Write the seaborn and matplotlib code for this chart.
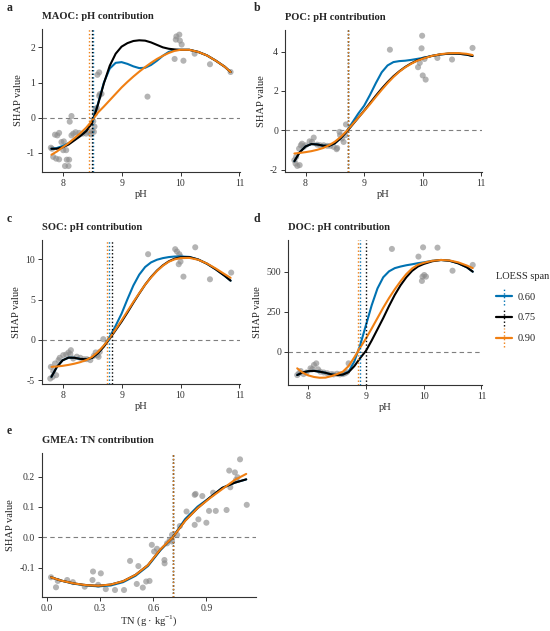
import numpy as np
import pandas as pd
import matplotlib
matplotlib.use('Agg')
import matplotlib.pyplot as plt
import seaborn as sns
from matplotlib.lines import Line2D
from matplotlib.legend_handler import HandlerBase


span_labels = ['0.60', '0.75', '0.90']
span_colors = ['#0072B2', '#000000', '#F07F12']

ph_grid = [7.81, 7.9, 8.0, 8.1, 8.2, 8.3, 8.4, 8.5, 8.6, 8.7, 8.8, 8.9, 9.0,
           9.1, 9.2, 9.3, 9.4, 9.5, 9.6, 9.7, 9.8, 9.9, 10.0, 10.15, 10.3,
           10.45, 10.6, 10.75, 10.85]
tn_grid = [0.023, 0.08, 0.15, 0.22, 0.29, 0.36, 0.43, 0.50, 0.57, 0.64, 0.71,
           0.78, 0.85, 0.92, 0.99, 1.06, 1.125]

# ---- MAOC ----
maoc_ph = [7.80, 7.82, 7.84, 7.89, 7.94, 7.87, 7.91, 7.94, 7.98, 8.02, 8.01,
           8.06, 8.07, 8.11, 8.04, 8.10, 8.12, 8.15, 8.15, 8.18, 8.22, 8.28,
           8.34, 8.40, 8.43, 8.48, 8.50, 8.53, 8.54, 8.52, 8.55, 8.56, 8.58,
           8.62, 8.63, 8.66, 8.59, 8.62, 9.44, 9.90, 10.05, 9.93, 9.98, 9.92,
           9.99, 10.02, 10.24, 10.50, 10.85]
maoc_shap = [-0.85, -0.88, -1.11, -1.16, -1.18, -0.48, -0.50, -0.43, -0.69,
             -0.67, -0.92, -0.92, -1.19, -1.19, -1.37, -1.37, -0.11, 0.05,
             -0.50, -0.45, -0.41, -0.43, -0.45, -0.45, -0.40, -0.47, -0.38,
             -0.40, -0.25, -0.10, 0.12, 0.25, 0.28, 0.62, 0.67, 0.68, 1.22,
             1.29, 0.60, 1.67, 1.62, 2.31, 2.36, 2.22, 2.19, 2.08, 1.82, 1.52,
             1.30]
maoc_fit_060 = [-0.88, -0.86, -0.80, -0.72, -0.62, -0.50, -0.36, -0.12, 0.40,
                1.00, 1.40, 1.56, 1.58, 1.53, 1.46, 1.41, 1.42, 1.50, 1.62,
                1.76, 1.87, 1.92, 1.93, 1.93, 1.87, 1.77, 1.62, 1.45, 1.30]
maoc_fit_075 = [-0.88, -0.88, -0.84, -0.76, -0.64, -0.52, -0.38, -0.15, 0.38,
                0.98, 1.48, 1.82, 2.02, 2.12, 2.18, 2.20, 2.19, 2.14, 2.07,
                2.00, 1.96, 1.94, 1.93, 1.93, 1.87, 1.77, 1.62, 1.45, 1.30]
maoc_fit_090 = [-1.05, -0.96, -0.84, -0.72, -0.58, -0.44, -0.28, -0.08, 0.15,
                0.32, 0.50, 0.68, 0.86, 1.02, 1.17, 1.31, 1.44, 1.56, 1.67,
                1.76, 1.84, 1.90, 1.93, 1.93, 1.87, 1.77, 1.62, 1.45, 1.30]
maoc_cut = [8.515, 8.50, 8.45]

# ---- POC ----
poc_ph = [7.81, 7.83, 7.86, 7.90, 7.84, 7.89, 7.92, 7.94, 7.97, 8.00, 8.07,
          8.14, 8.11, 8.20, 8.25, 8.31, 8.37, 8.42, 8.48, 8.54, 8.53, 8.58,
          8.59, 8.62, 8.65, 8.68, 8.69, 9.44, 9.99, 9.98, 9.92, 9.95, 10.00,
          10.05, 10.03, 10.25, 10.50, 10.85]
poc_shap = [-1.52, -1.69, -1.81, -1.77, -1.35, -0.93, -0.76, -0.68, -0.84,
            -0.76, -0.56, -0.37, -0.59, -0.73, -0.76, -0.76, -0.79, -0.79,
            -0.84, -0.90, -0.96, -0.08, -0.25, -0.42, -0.59, -0.25, 0.30,
            4.10, 4.81, 4.17, 3.21, 3.43, 2.79, 2.58, 3.63, 3.68, 3.60, 4.19]
poc_fit_060 = [-1.57, -1.12, -0.82, -0.70, -0.72, -0.78, -0.79, -0.66, -0.40,
               -0.05, 0.40, 0.85, 1.25, 1.80, 2.40, 2.95, 3.30, 3.47, 3.52,
               3.54, 3.58, 3.63, 3.68, 3.78, 3.86, 3.90, 3.90, 3.85, 3.78]
poc_fit_075 = [-1.57, -1.12, -0.82, -0.70, -0.72, -0.78, -0.79, -0.66, -0.40,
               -0.08, 0.28, 0.64, 1.00, 1.38, 1.76, 2.12, 2.45, 2.75, 3.00,
               3.22, 3.40, 3.55, 3.66, 3.78, 3.86, 3.90, 3.90, 3.85, 3.78]
poc_fit_090 = [-1.18, -1.15, -1.11, -1.06, -0.99, -0.90, -0.76, -0.58, -0.34,
               -0.04, 0.30, 0.64, 0.98, 1.33, 1.70, 2.06, 2.40, 2.71, 2.98,
               3.20, 3.38, 3.53, 3.64, 3.78, 3.87, 3.92, 3.93, 3.89, 3.83]
poc_cut = [8.72, 8.72, 8.73]

# ---- SOC ----
soc_ph = [7.79, 7.83, 7.89, 7.80, 7.84, 7.87, 7.93, 7.95, 8.01, 8.06, 8.10,
          8.14, 8.13, 8.18, 8.24, 8.30, 8.36, 8.41, 8.47, 8.53, 8.56, 8.59,
          8.61, 8.63, 8.69, 9.45, 9.91, 9.94, 9.98, 10.00, 9.97, 10.00, 10.05,
          10.25, 10.50, 10.86]
soc_shap = [-4.82, -4.61, -4.40, -3.37, -3.90, -2.95, -2.53, -2.24, -1.91,
            -1.83, -1.58, -1.29, -1.79, -2.33, -2.10, -2.24, -2.41, -2.41,
            -2.53, -1.99, -1.58, -1.91, -2.12, -1.50, 0.08, 10.64, 11.26,
            10.97, 10.64, 10.34, 9.39, 9.72, 7.85, 11.50, 7.52, 8.35]
soc_fit_060 = [-4.60, -3.40, -2.55, -2.22, -2.24, -2.38, -2.42, -2.25, -1.65,
               -0.75, 0.40, 1.75, 3.25, 5.05, 6.75, 8.10, 9.05, 9.62, 9.95,
               10.15, 10.28, 10.35, 10.36, 10.30, 9.98, 9.45, 8.75, 7.95, 7.35]
soc_fit_075 = [-4.60, -3.40, -2.55, -2.22, -2.24, -2.38, -2.42, -2.25, -1.65,
               -0.85, 0.15, 1.20, 2.25, 3.40, 4.60, 5.75, 6.85, 7.80, 8.60,
               9.25, 9.75, 10.08, 10.25, 10.28, 9.98, 9.45, 8.75, 7.95, 7.35]
soc_fit_090 = [-3.37, -3.32, -3.24, -3.12, -2.97, -2.78, -2.52, -2.12, -1.50,
               -0.70, 0.25, 1.30, 2.40, 3.55, 4.70, 5.80, 6.85, 7.75, 8.55,
               9.20, 9.70, 10.00, 10.15, 10.18, 9.95, 9.48, 8.85, 8.15, 7.70]
soc_cut = [8.79, 8.83, 8.76]

# ---- DOC ----
doc_ph = [7.81, 7.84, 7.87, 7.92, 7.97, 8.04, 8.07, 8.10, 8.14, 8.17, 8.21,
          8.27, 8.33, 8.40, 8.44, 8.50, 8.55, 8.60, 8.64, 8.67, 8.70, 9.45,
          9.91, 9.99, 10.24, 9.98, 10.01, 10.04, 9.97, 10.50, 10.85]
doc_shap = [-146, -135, -121, -140, -130, -104, -110, -83, -73, -110, -125,
            -130, -135, -140, -142, -138, -142, -140, -135, -128, -73, 642,
            594, 652, 650, 469, 479, 469, 442, 506, 542]
doc_fit_060 = [-146, -130, -122, -120, -125, -132, -142, -146, -143, -125,
               -60, 40, 165, 290, 395, 465, 502, 522, 532, 540, 546, 553, 558,
               568, 573, 568, 552, 527, 500]
doc_fit_075 = [-146, -130, -122, -120, -125, -132, -142, -146, -143, -128,
               -90, -40, 5, 70, 140, 210, 285, 355, 415, 465, 505, 532, 548,
               565, 573, 568, 552, 527, 500]
doc_fit_090 = [-104, -130, -148, -158, -163, -162, -153, -140, -125, -90,
               -35, 25, 82, 145, 210, 275, 335, 390, 440, 485, 520, 543, 555,
               568, 573, 570, 558, 538, 522]
doc_cut = [8.89, 9.00, 8.87]

# ---- GMEA ----
gmea_tn = [0.023, 0.051, 0.061, 0.114, 0.146, 0.213, 0.260, 0.257, 0.304,
           0.289, 0.332, 0.384, 0.435, 0.469, 0.507, 0.516, 0.541, 0.560,
           0.579, 0.592, 0.605, 0.621, 0.663, 0.664, 0.678, 0.693, 0.706,
           0.706, 0.735, 0.750, 0.788, 0.834, 0.834, 0.839, 0.855, 0.877,
           0.900, 0.915, 0.938, 0.953, 1.014, 1.029, 1.061, 1.035, 1.067,
           1.090, 1.128, 1.076]
gmea_shap = [-0.132, -0.165, -0.144, -0.141, -0.148, -0.163, -0.113, -0.141,
             -0.119, -0.157, -0.171, -0.174, -0.174, -0.078, -0.154, -0.095,
             -0.166, -0.146, -0.144, -0.025, -0.047, -0.038, -0.075, -0.086,
             -0.020, -0.009, -0.014, 0.008, 0.008, 0.037, 0.085, 0.041, 0.140,
             0.143, 0.059, 0.136, 0.048, 0.087, 0.147, 0.087, 0.090, 0.220,
             0.214, 0.165, 0.189, 0.257, 0.107, 0.198]
gmea_fit_060 = [-0.132, -0.143, -0.153, -0.159, -0.162, -0.159, -0.148, -0.127,
                -0.095, -0.043, 0.000, 0.060, 0.101, 0.131, 0.163, 0.180, 0.191]
gmea_fit_075 = [-0.132, -0.143, -0.152, -0.158, -0.160, -0.156, -0.145, -0.124,
                -0.092, -0.041, 0.000, 0.055, 0.096, 0.131, 0.163, 0.180, 0.191]
gmea_fit_090 = [-0.132, -0.143, -0.152, -0.158, -0.160, -0.156, -0.145, -0.124,
                -0.092, -0.040, 0.000, 0.054, 0.096, 0.129, 0.159, 0.189, 0.209]
gmea_cut = [0.710, 0.714, 0.712]


class SpanKey(HandlerBase):
    # ggplot style key: solid fit line crossed by a dotted threshold line
    def create_artists(self, legend, orig_handle, xdescent, ydescent,
                       width, height, fontsize, trans):
        c = orig_handle.get_color()
        v = Line2D([width / 2, width / 2], [-0.75 * height, 1.75 * height],
                   color=c, lw=1.0, ls=(0, (1, 1.6)), transform=trans)
        h = Line2D([0, width], [height / 2, height / 2], color=c, lw=1.6,
                   transform=trans)
        return [v, h]


def draw_panel(ax, px, py, grid, fits, cuts, title, xlabel, xlim, ylim,
               xticks, yticks):
    sns.scatterplot(x=px, y=py, ax=ax, color='#8c8c8c', alpha=0.65, s=19,
                    edgecolor='none', zorder=2)
    fit_df = pd.DataFrame({
        'x': np.tile(grid, 3),
        'y': np.concatenate(fits),
        'span': np.repeat(span_labels, len(grid)),
    })
    sns.lineplot(data=fit_df, x='x', y='y', hue='span', hue_order=span_labels,
                 palette=span_colors, lw=1.5, ax=ax, legend=False, zorder=3)
    ax.axhline(0, color='#7f7f7f', lw=0.8, ls=(0, (4, 3)), zorder=1)
    for cut, col in zip(cuts, span_colors):
        ax.axvline(cut, color=col, lw=1.0, ls=(0, (1, 1.6)), zorder=4)
    ax.set_xlim(*xlim)
    ax.set_ylim(*ylim)
    ax.set_xticks(xticks)
    ax.set_yticks(yticks)
    ax.set_title(title, loc='left', fontsize=7.6, fontweight='bold', pad=7)
    ax.set_xlabel(xlabel, fontsize=7.6, labelpad=1.5)
    ax.set_ylabel('SHAP value', fontsize=7.6, labelpad=3)
    ax.tick_params(labelsize=7, length=3, width=0.7, colors='#333333',
                   pad=2)
    sns.despine(ax=ax)
    for side in ['left', 'bottom']:
        ax.spines[side].set_color('#333333')
        ax.spines[side].set_linewidth(0.8)


sns.set_theme(style='ticks')
plt.rcParams['font.family'] = ['Liberation Serif', 'DejaVu Serif']
plt.rcParams['mathtext.fontset'] = 'custom'
plt.rcParams['mathtext.rm'] = 'Liberation Serif'
plt.rcParams['axes.unicode_minus'] = False

fig = plt.figure(figsize=(5.5, 6.31), dpi=100)
ax_a = fig.add_axes([0.0764, 0.7274, 0.360, 0.2266])
ax_b = fig.add_axes([0.5182, 0.7274, 0.358, 0.2250])
ax_c = fig.add_axes([0.0764, 0.3914, 0.360, 0.2282])
ax_d = fig.add_axes([0.5236, 0.3899, 0.3527, 0.2298])
ax_e = fig.add_axes([0.0764, 0.0539, 0.389, 0.2282])

ph_ticks = [8, 9, 10, 11]
draw_panel(ax_a, maoc_ph, maoc_shap, ph_grid,
           [maoc_fit_060, maoc_fit_075, maoc_fit_090], maoc_cut,
           'MAOC: pH contribution', 'pH', (7.65, 11.01), (-1.54, 2.52),
           ph_ticks, [-1, 0, 1, 2])
draw_panel(ax_b, poc_ph, poc_shap, ph_grid,
           [poc_fit_060, poc_fit_075, poc_fit_090], poc_cut,
           'POC: pH contribution', 'pH', (7.65, 11.01), (-2.12, 5.1),
           ph_ticks, [-2, 0, 2, 4])
draw_panel(ax_c, soc_ph, soc_shap, ph_grid,
           [soc_fit_060, soc_fit_075, soc_fit_090], soc_cut,
           'SOC: pH contribution', 'pH', (7.65, 11.01), (-5.5, 12.4),
           ph_ticks, [-5, 0, 5, 10])
draw_panel(ax_d, doc_ph, doc_shap, ph_grid,
           [doc_fit_060, doc_fit_075, doc_fit_090], doc_cut,
           'DOC: pH contribution', 'pH', (7.65, 11.01), (-208, 698),
           ph_ticks, [0, 250, 500])
draw_panel(ax_e, gmea_tn, gmea_shap, tn_grid,
           [gmea_fit_060, gmea_fit_075, gmea_fit_090], gmea_cut,
           'GMEA: TN contribution', r'TN (g · kg$^{-1}$)', (-0.028, 1.18),
           (-0.197, 0.278), [0.0, 0.3, 0.6, 0.9], [-0.1, 0.0, 0.1, 0.2])
ax_e.set_xticklabels(['0.0', '0.3', '0.6', '0.9'])
ax_e.set_yticklabels(['-0.1', '0.0', '0.1', '0.2'])
ax_e.xaxis.labelpad = 0

for lab, x, y in [('a', 7, 8), ('b', 254, 8), ('c', 7, 219), ('d', 254, 219),
                  ('e', 7, 431)]:
    fig.text(x / 550, 1 - y / 631, lab, fontsize=8.5, fontweight='bold',
             va='center', ha='left')

handles = [Line2D([], [], color=c) for c in span_colors]
fig.legend(handles, span_labels, title='LOESS span',
           handler_map={Line2D: SpanKey()},
           loc='upper left', bbox_to_anchor=(496 / 550, 1 - 272 / 631),
           frameon=False, fontsize=7.5, title_fontsize=7.5,
           handlelength=1.5, handletextpad=0.6, labelspacing=1.1,
           alignment='left', borderaxespad=0, borderpad=0)

fig.savefig('out.png', dpi=100)
